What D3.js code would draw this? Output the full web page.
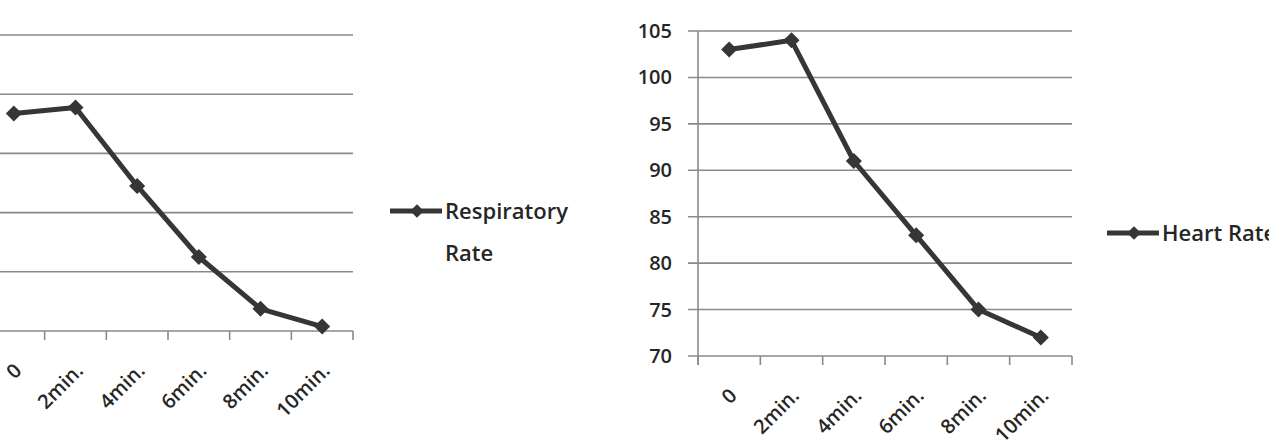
<!DOCTYPE html>
<html>
<head>
<meta charset="utf-8">
<script src="https://cdn.jsdelivr.net/npm/d3@7"></script>
<style>
  body { margin: 0; background: #fff; }
  svg text { font-family: "Open Sans", sans-serif; fill: #262626; font-weight: 600; }
</style>
</head>
<body>
<svg id="chart" width="1269" height="447"></svg>
<script>
// categories and series
const times = ["0", "2min.", "4min.", "6min.", "8min.", "10min."];
const respiratoryRate = [21.35, 21.55, 18.9, 16.5, 14.75, 14.15];
const heartRate = [103, 104, 91, 83, 75, 72];
const respTicks = [14, 16, 18, 20, 22, 24];
const heartTicks = [70, 75, 80, 85, 90, 95, 100, 105];

const svg = d3.select("#chart");
const lineColor = "#363636";
const gridColor = "#8a8a8a";

function drawChart(opts) {
    let g = svg.append("g");

    let x = d3.scaleBand()
        .domain(times)
        .range([opts.left, opts.right]);

    let y = d3.scaleLinear()
        .domain(opts.domain)
        .range([opts.bottom, opts.top]);

    // gridlines
    g.selectAll(".grid")
        .data(opts.ticks.slice(1))
        .enter().append("line")
        .attr("x1", opts.left - 10)
        .attr("x2", opts.right)
        .attr("y1", d => y(d))
        .attr("y2", d => y(d))
        .attr("stroke", gridColor)
        .attr("stroke-width", 1.6);

    // y axis
    g.append("line")
        .attr("x1", opts.left).attr("x2", opts.left)
        .attr("y1", opts.top).attr("y2", opts.bottom + 9)
        .attr("stroke", gridColor).attr("stroke-width", 1.6);

    if (opts.showYLabels) {
        g.selectAll(".ylab")
            .data(opts.ticks)
            .enter().append("text")
            .attr("x", opts.left - 26)
            .attr("y", d => y(d))
            .attr("dy", "0.35em")
            .attr("text-anchor", "end")
            .style("font-size", "20px")
            .text(d => d);
    }

    // x axis line and ticks
    g.append("line")
        .attr("x1", opts.left - 10).attr("x2", opts.right)
        .attr("y1", opts.bottom).attr("y2", opts.bottom)
        .attr("stroke", gridColor).attr("stroke-width", 1.6);

    let tickPos = times.map(d => x(d)).concat([opts.right]);
    g.selectAll(".xtick")
        .data(tickPos)
        .enter().append("line")
        .attr("x1", d => d).attr("x2", d => d)
        .attr("y1", opts.bottom).attr("y2", opts.bottom + 9)
        .attr("stroke", gridColor).attr("stroke-width", 1.6);

    g.selectAll(".xlab")
        .data(times)
        .enter().append("text")
        .attr("transform", d => `translate(${x(d) + x.bandwidth() / 2 + 4}, ${opts.bottom + 36}) rotate(-45)`)
        .attr("text-anchor", "end")
        .attr("dy", "0.35em")
        .style("font-size", "20px")
        .text(d => d);

    // series line
    let line = d3.line()
        .x((d, i) => x(times[i]) + x.bandwidth() / 2)
        .y(d => y(d));

    g.append("path")
        .datum(opts.values)
        .attr("d", line)
        .attr("fill", "none")
        .attr("stroke", lineColor)
        .attr("stroke-width", 5)
        .attr("stroke-linejoin", "round");

    let diamond = d3.symbol().type(d3.symbolDiamond2).size(165);
    g.selectAll(".pt")
        .data(opts.values)
        .enter().append("path")
        .attr("d", diamond)
        .attr("transform", (d, i) => `translate(${x(times[i]) + x.bandwidth() / 2}, ${y(d)})`)
        .attr("fill", lineColor);

    // legend
    let lg = g.append("g")
        .attr("transform", `translate(${opts.legendX}, ${opts.legendY})`);
    lg.append("line")
        .attr("x1", 0).attr("x2", 52)
        .attr("y1", 0).attr("y2", 0)
        .attr("stroke", lineColor).attr("stroke-width", 5);
    lg.append("path")
        .attr("d", d3.symbol().type(d3.symbolDiamond2).size(120))
        .attr("transform", "translate(27,0)")
        .attr("fill", lineColor);
    opts.legendLines.forEach((t, i) => {
        lg.append("text")
            .attr("x", 55)
            .attr("y", i * 42)
            .attr("dy", "0.35em")
            .style("font-size", "22px")
            .text(t);
    });
}

drawChart({
    left: -17, right: 353, top: 35, bottom: 331,
    domain: [14, 24], ticks: respTicks, values: respiratoryRate,
    showYLabels: false,
    legendX: 390, legendY: 211, legendLines: ["Respiratory", "Rate"]
});

drawChart({
    left: 698, right: 1072, top: 31, bottom: 356,
    domain: [70, 105], ticks: heartTicks, values: heartRate,
    showYLabels: true,
    legendX: 1107, legendY: 233, legendLines: ["Heart Rate"]
});
</script>
</body>
</html>
